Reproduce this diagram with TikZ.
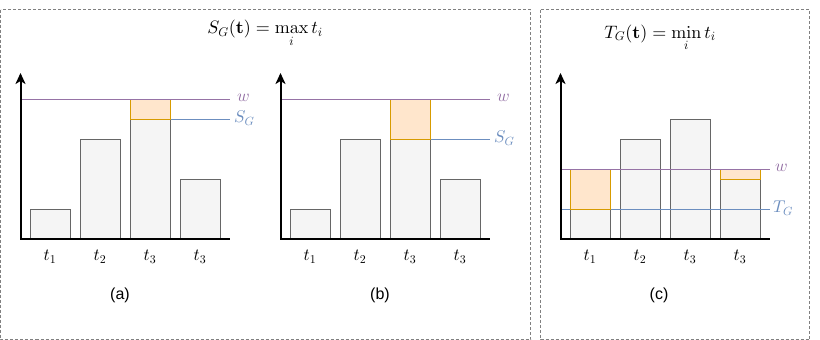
\documentclass[tikz,border=0pt]{standalone}
\usepackage[no-math]{fontspec}
\newfontfamily\labfont{Liberation Sans}
\DeclareFontShape{OML}{cmm}{m}{it}{<->cmmi10}{}
\DeclareFontShape{OMS}{cmsy}{m}{n}{<->cmsy10}{}
\DeclareFontShape{OT1}{cmr}{m}{n}{<->cmr10}{}
\DeclareFontShape{OT1}{cmr}{bx}{n}{<->cmbx10}{}
\DeclareFontShape{OMX}{cmex}{m}{n}{<->cmex10}{}
\usetikzlibrary{arrows.meta}
\definecolor{barfill}{HTML}{F5F5F5}
\definecolor{barline}{HTML}{666666}
\definecolor{orfill}{HTML}{FFE6CC}
\definecolor{orline}{HTML}{D79B00}
\definecolor{wcol}{HTML}{9673A6}
\definecolor{scol}{HTML}{6C8EBF}
\definecolor{framecol}{HTML}{808080}
\tikzset{
  frame/.style={draw=framecol, line width=0.8pt, dash pattern=on 3pt off 2pt},
  bar/.style={draw=barline, fill=barfill, line width=1pt},
  hl/.style={draw=orline, fill=orfill, line width=1pt},
  wline/.style={draw=wcol, line width=1pt},
  sline/.style={draw=scol, line width=1pt},
  axis/.style={draw=black, line width=2pt, line join=miter},
  mlab/.style={font=\fontsize{17}{20}\selectfont, inner sep=0pt},
  ttl/.style={font=\fontsize{18}{21}\selectfont, inner sep=0pt, anchor=base},
  sublabel/.style={font=\labfont\fontsize{16}{19}\selectfont, inner sep=0pt},
}
\begin{document}
\begin{tikzpicture}[x=1pt,y=-1pt]
\useasboundingbox (0,0) rectangle (820,340);
% frames
\draw[frame] (0.5,9.5) rectangle (530.5,339.5);
\draw[frame] (540.5,9.5) rectangle (809.5,339.5);
% titles
\node[ttl] (ts) at (265,34) {$S_G(\mathbf{t}) = \max\limits_i t_i$};
\node[ttl] (tt) at (660,38) {$T_G(\mathbf{t}) = \min\limits_i t_i$};

% ---------- panel (a)
\begin{scope}
\draw[bar] (30,239) rectangle (70,209);
\draw[bar] (80,239) rectangle (120,139);
\draw[bar] (130,239) rectangle (170,119);
\draw[bar] (180,239) rectangle (220,179);
\coordinate (as0) at (170,119.5);
\coordinate (as1) at (230,119.5);
\draw[sline] (as0) -- (as1);
\draw[hl] (130,119.5) rectangle (170,99.5);
\coordinate (aw0) at (20,99.5);
\coordinate (aw1) at (230,99.5);
\draw[wline] (aw0) -- (aw1);
\node[mlab, text=wcol, anchor=west] (awl) at (237,98) {$w$};
\node[mlab, text=scol, anchor=west] (asl) at (234,118) {$S_G$};
\coordinate (ay) at (20.5,73);
\coordinate (ao) at (20.5,239);
\coordinate (ax) at (230,239);
\draw[axis, {Stealth[length=11pt,width=10pt,inset=3pt]}-] (ay) -- (ao) -- (ax);
\node[mlab] (at1) at (50,257) {$t_1$};
\node[mlab] (at2) at (100,257) {$t_2$};
\node[mlab] (at3) at (150,257) {$t_3$};
\node[mlab] (at4) at (200,257) {$t_3$};
\node[sublabel] (acap) at (120,295) {(a)};
\end{scope}

% ---------- panel (b)
\begin{scope}[xshift=260pt]
\draw[bar] (30,239) rectangle (70,209);
\draw[bar] (80,239) rectangle (120,139);
\draw[bar] (130,239) rectangle (170,139);
\draw[bar] (180,239) rectangle (220,179);
\coordinate (bs0) at (170,139.5);
\coordinate (bs1) at (230,139.5);
\draw[sline] (bs0) -- (bs1);
\draw[hl] (130,139.5) rectangle (170,99.5);
\coordinate (bw0) at (20,99.5);
\coordinate (bw1) at (230,99.5);
\draw[wline] (bw0) -- (bw1);
\node[mlab, text=wcol, anchor=west] (bwl) at (237,98) {$w$};
\node[mlab, text=scol, anchor=west] (bsl) at (234,138) {$S_G$};
\coordinate (by) at (20.5,73);
\coordinate (bo) at (20.5,239);
\coordinate (bx) at (230,239);
\draw[axis, {Stealth[length=11pt,width=10pt,inset=3pt]}-] (by) -- (bo) -- (bx);
\node[mlab] (bt1) at (50,257) {$t_1$};
\node[mlab] (bt2) at (100,257) {$t_2$};
\node[mlab] (bt3) at (150,257) {$t_3$};
\node[mlab] (bt4) at (200,257) {$t_3$};
\node[sublabel] (bcap) at (120,295) {(b)};
\end{scope}

% ---------- panel (c)
\begin{scope}[xshift=540pt]
\draw[bar] (30,239) rectangle (70,169);
\draw[bar] (80,239) rectangle (120,139);
\draw[bar] (130,239) rectangle (170,119);
\draw[bar] (180,239) rectangle (220,179);
\coordinate (cs0) at (20,209.5);
\coordinate (cs1) at (230,209.5);
\draw[sline] (cs0) -- (cs1);
\draw[hl] (30,209.5) rectangle (70,169.5);
\draw[hl] (180,179.5) rectangle (220,169.5);
\coordinate (cw0) at (20,169.5);
\coordinate (cw1) at (230,169.5);
\draw[wline] (cw0) -- (cw1);
\node[mlab, text=wcol, anchor=west] (cwl) at (235,168) {$w$};
\node[mlab, text=scol, anchor=west] (csl) at (233,208) {$T_G$};
\coordinate (cy) at (20.5,73);
\coordinate (co) at (20.5,239);
\coordinate (cx) at (230,239);
\draw[axis, {Stealth[length=11pt,width=10pt,inset=3pt]}-] (cy) -- (co) -- (cx);
\node[mlab] (ct1) at (50,257) {$t_1$};
\node[mlab] (ct2) at (100,257) {$t_2$};
\node[mlab] (ct3) at (150,257) {$t_3$};
\node[mlab] (ct4) at (200,257) {$t_3$};
\node[sublabel] (ccap) at (119,295) {(c)};
\end{scope}
\end{tikzpicture}
\end{document}
